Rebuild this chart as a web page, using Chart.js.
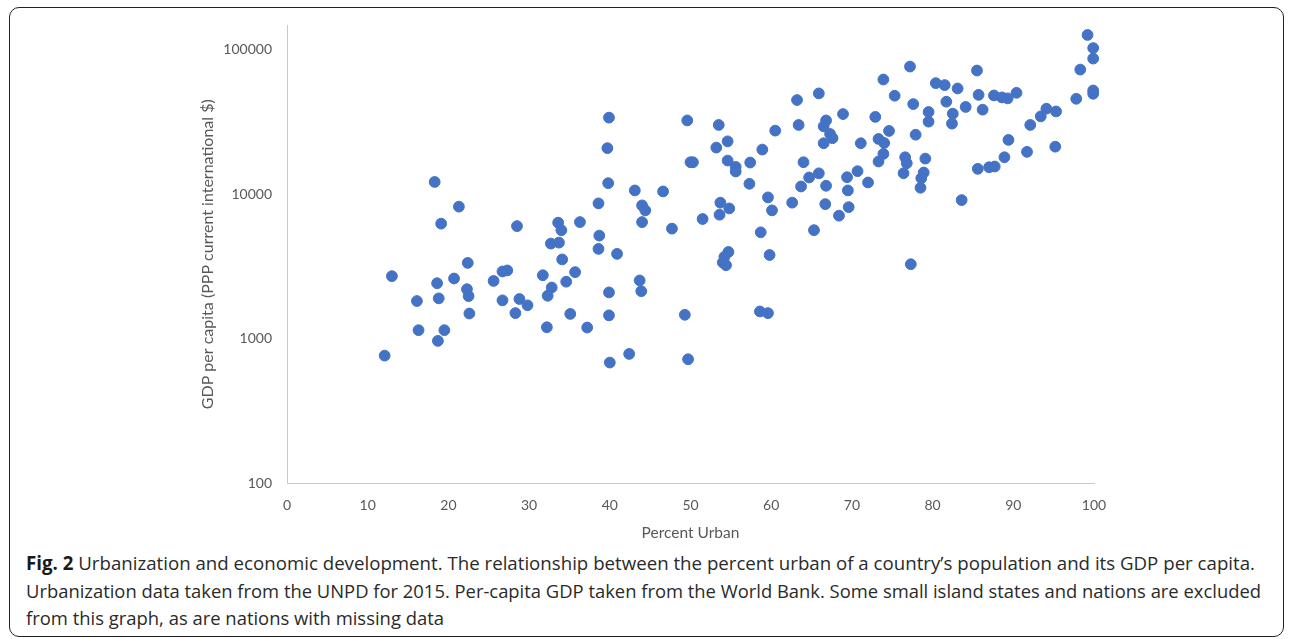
<!DOCTYPE html>
<html>
<head>
<meta charset="utf-8">
<script src="https://cdn.jsdelivr.net/npm/chart.js@4"></script>
<style>
  body { margin: 0; background: #fff; width: 1292px; height: 639px; overflow: hidden; position: relative; }
  #frame { position: absolute; left: 9px; top: 7px; width: 1273px; height: 628px; border: 1.5px solid #222; border-radius: 10px; }
  #wrap { position: absolute; left: 0; top: 0; width: 1292px; height: 544px; }
  #caption { position: absolute; left: 26px; top: 550px; font-family: "Open Sans", sans-serif; font-size: 19px; line-height: 27.5px; color: #2a2a2a; white-space: nowrap; }
  #caption .line { display: block; width: max-content; transform-origin: 0 50%; }
  #caption b { font-weight: 700; color: #1a1a1a; }
</style>
</head>
<body>
<div id="frame"></div>
<div id="wrap"><canvas id="urbanChart"></canvas></div>
<div id="caption">
  <span class="line" data-w="1229"><b>Fig. 2</b> Urbanization and economic development. The relationship between the percent urban of a country’s population and its GDP per capita.</span>
  <span class="line" data-w="1235">Urbanization data taken from the UNPD for 2015. Per-capita GDP taken from the World Bank. Some small island states and nations are excluded</span>
  <span class="line" data-w="418">from this graph, as are nations with missing data</span>
</div>
<script>
// percent urban (x) and GDP per capita PPP (y)
var urban = [
  18.3, 21.3, 19.1, 28.5, 33.6, 34.0, 32.7, 33.7, 34.1, 22.4, 13.0, 18.6, 20.7, 22.3, 22.5, 18.8, 16.1,
  25.6, 26.7, 27.3, 31.7, 32.8, 32.3, 26.7, 28.8, 29.8, 28.3, 22.6, 16.3, 19.5, 18.7, 12.1, 32.2,
  39.9, 39.7, 39.8, 38.6, 43.1, 46.6, 44.0, 44.4, 44.0, 47.7, 49.6, 50.0, 50.3, 53.5, 54.6, 53.2,
  54.6, 55.6, 55.6, 57.4, 58.9, 60.5, 63.2, 63.4, 57.3, 59.6, 60.1, 62.6, 64.0, 64.7, 63.7, 65.9,
  65.3, 53.7, 54.8, 53.6, 51.5, 58.7, 59.8, 54.7, 54.2, 54.0, 54.4, 58.6, 59.6, 49.3, 49.7, 42.4,
  40.0, 39.9, 39.9, 43.7, 43.9, 40.9, 38.6, 38.7, 36.3, 35.7, 34.6, 35.1, 37.2,
  99.2, 99.9, 99.9, 98.3, 97.8, 99.9, 99.9, 85.5, 77.2, 73.9, 65.9, 75.3, 77.6, 80.4, 81.5, 83.1,
  85.7, 87.6, 88.6, 89.3, 90.4, 81.7, 84.1, 86.2, 79.5, 82.5, 79.5, 82.4, 68.9, 66.8, 66.5, 72.9,
  74.6, 77.9, 67.3, 67.6, 66.5, 71.1, 73.3, 74.0, 73.9, 73.3, 76.6, 76.8, 76.4, 79.1, 78.9, 78.6,
  78.5, 66.8, 69.4, 70.7, 69.5, 72.0, 66.7, 69.6, 68.4, 85.6, 87.0, 87.7, 88.9, 89.4, 91.7, 92.1,
  93.4, 94.1, 95.3, 95.2, 83.6, 77.3
];
var gdp = [
  12200, 8230, 6280, 6040, 6380, 5650, 4570, 4640, 3550, 3360, 2720, 2430, 2620, 2210, 1980, 1910, 1830,
  2520, 2930, 2980, 2760, 2270, 1990, 1850, 1890, 1710, 1510, 1500, 1150, 1150, 970, 767, 1205,
  34000, 20900, 11970, 8670, 10660, 10490, 8400, 7760, 6440, 5800, 32500, 16700, 16700, 30250, 23300, 21100,
  17160, 15520, 14410, 16630, 20440, 27630, 45000, 30250, 11850, 9540, 7760, 8770, 16700, 13100, 11350, 14000,
  5660, 8770, 8000, 7240, 6760, 5470, 3810, 4000, 3700, 3380, 3240, 1550, 1510, 1470, 724, 788,
  687, 2100, 1457, 2540, 2140, 3880, 4200, 5190, 6440, 2900, 2490, 1490, 1200,
  126900, 103000, 87100, 73100, 45900, 52400, 49700, 72000, 76700, 62400, 50000, 48200, 42200, 58900, 57100, 54100,
  48900, 48400, 46900, 46200, 50500, 43800, 40300, 38600, 37200, 36200, 31900, 30900, 36000, 32500, 29600, 34400,
  27500, 25900, 26200, 24500, 22600, 22600, 24200, 22700, 19080, 16900, 18080, 16440, 14020, 17700, 14180, 12950,
  11120, 11480, 13160, 14480, 10660, 12100, 8570, 8170, 7130, 15040, 15420, 15600, 18080, 23850, 19700, 30250,
  34700, 39200, 37500, 21400, 9140, 3290
];
var yTicks = [100, 1000, 10000, 100000];
var xTicks = [0, 10, 20, 30, 40, 50, 60, 70, 80, 90, 100];

var points = urban.map(function (u, i) { return { x: u, y: gdp[i] }; });

var axisGray = "#c9c9c9";
var textGray = "#595959";

// squeeze caption lines to the widths they have in the figure
document.querySelectorAll("#caption .line").forEach(function (el) {
  var natural = el.getBoundingClientRect().width;
  var target = Number(el.getAttribute("data-w"));
  el.style.transform = "scaleX(" + (target / natural) + ")";
});

new Chart("urbanChart", {
  type: "scatter",
  data: {
    datasets: [
      {
        label: "Countries",
        data: points,
        backgroundColor: "#4472C4",
        borderColor: "#4472C4",
        borderWidth: 1,
        pointRadius: 5.4,
        pointHoverRadius: 5.4,
        clip: false,
      },
    ],
  },
  options: {
    responsive: true,
    maintainAspectRatio: false,
    animation: false,
    layout: {
      padding: { left: 190, right: 198, top: 25, bottom: 2 },
    },
    plugins: {
      legend: { display: false },
      tooltip: { enabled: false },
    },
    scales: {
      x: {
        type: "linear",
        min: 0,
        max: 100,
        afterBuildTicks: function (scale) {
          scale.ticks = xTicks.map(function (v) { return { value: v }; });
        },
        afterFit: function (scale) { scale.height = 58.5; },
        grid: { display: false, drawTicks: false },
        border: { display: true, color: axisGray, width: 1 },
        ticks: { padding: 14, color: textGray, font: { family: "Lato", size: 14 } },
        title: {
          display: true,
          text: "Percent Urban",
          color: textGray,
          font: { family: "Lato", size: 15.5 },
          padding: { top: 0, bottom: 0 },
        },
      },
      y: {
        type: "logarithmic",
        min: 100,
        max: 148700,
        afterBuildTicks: function (scale) {
          scale.ticks = yTicks.map(function (v) { return { value: v }; });
        },
        afterFit: function (scale) { scale.width = 97; },
        grid: { display: false, drawTicks: false },
        border: { display: true, color: axisGray, width: 1 },
        ticks: {
          padding: 15,
          color: textGray,
          font: { family: "Lato", size: 14 },
          callback: function (v) { return String(v); },
        },
        title: {
          display: true,
          text: "GDP per capita (PPP current international $)",
          color: textGray,
          font: { family: "Lato", size: 16 },
          padding: { top: 8, bottom: 0 },
        },
      },
    },
  },
});
</script>
</body>
</html>
